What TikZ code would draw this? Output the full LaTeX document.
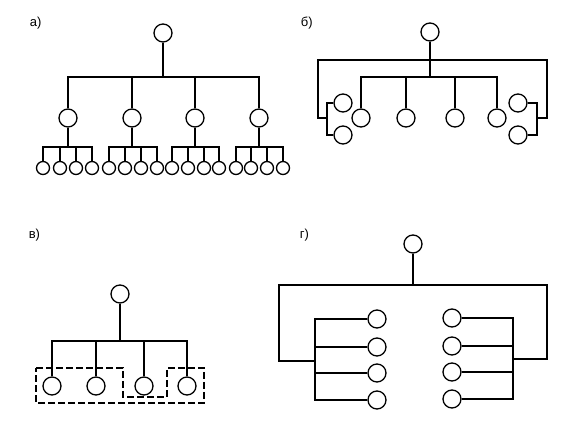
\documentclass[tikz,border=0pt]{standalone}
\usepackage{fontspec}
\setmainfont{Liberation Sans}
\begin{document}
\begin{tikzpicture}[x=1pt,y=-1pt,
  line width=1.6pt,
  bigc/.style={circle,draw,line width=1.3pt,minimum size=18pt,inner sep=0pt},
  leaf/.style={circle,draw,line width=1.3pt,minimum size=13pt,inner sep=0pt},
  lbl/.style={anchor=base west,inner sep=0pt,font=\fontsize{13}{15}\selectfont},
  dbox/.style={line width=1.3pt,dash pattern=on 7pt off 3pt}]
\useasboundingbox (0,0) rectangle (587,430);

% labels
\node[lbl] (la) at (29,27) {а)};
\node[lbl] (lb) at (300,27) {б)};
\node[lbl] (lv) at (28,239) {в)};
\node[lbl] (lg) at (299,239) {г)};

% ---------- panel a ----------
\node[bigc] (a0) at (163,33) {};
\coordinate (ab) at (163,77);
\draw (a0) -- (ab);
\foreach \p/\xs [count=\i] in {68/{43,60,76,92},132/{109,125,141,157},195/{172,188,204,219},259/{236,251,267,283}} {
  \node[bigc] (a\i) at (\p,118) {};
  \draw (a\i.north) |- (ab);
  \coordinate (ac\i) at (\p,147);
  \draw (a\i) -- (ac\i);
  \foreach \x [count=\j] in \xs {
    \node[leaf] (a\i\j) at (\x,168) {};
    \draw (a\i\j.north) |- (ac\i);
  }
}

% ---------- panel b ----------
\node[bigc] (b0) at (430,32) {};
\coordinate (bo) at (430,60);
\coordinate (bi) at (430,77);
\draw (b0) -- (bi);
\foreach \x [count=\i] in {361,406,455,497} {
  \node[bigc] (b\i) at (\x,118) {};
  \draw (b\i.north) |- (bi);
}
\node[bigc] (bl1) at (343,103) {};
\node[bigc] (bl2) at (343,135) {};
\node[bigc] (br1) at (518,103) {};
\node[bigc] (br2) at (518,135) {};
\coordinate (blk) at (327,118);
\coordinate (blo) at (318,118);
\coordinate (brk) at (537,118);
\coordinate (bro) at (547,118);
\draw (bl1.west) -| (blk);
\draw (bl2.west) -| (blk);
\draw (blk) -- (blo) |- (bo);
\draw (br1.east) -| (brk);
\draw (br2.east) -| (brk);
\draw (brk) -- (bro) |- (bo);

% ---------- panel v ----------
\node[bigc] (v0) at (120,294) {};
\coordinate (vb) at (120,341);
\draw (v0) -- (vb);
\foreach \x [count=\i] in {52,96,144,187} {
  \node[bigc] (v\i) at (\x,386) {};
  \draw (v\i.north) |- (vb);
}
\draw[dbox] (36,368) -- (123,368) -- (123,397) -- (167,397) -- (167,368)
  -- (204,368) -- (204,403) -- (36,403) -- cycle;

% ---------- panel g ----------
\node[bigc] (g0) at (413,244) {};
\coordinate (gb) at (413,285);
\draw (g0) -- (gb);
\coordinate (gLo) at (279,361);
\coordinate (glk) at (315,361);
\coordinate (gRo) at (547,359);
\coordinate (grk) at (513,359);
\draw (gb) -| (gLo) -- (glk);
\draw (gb) -| (gRo) -- (grk);
\foreach \y [count=\i] in {319,347,373,400} {
  \node[bigc] (gl\i) at (377,\y) {};
  \draw (gl\i.west) -| (glk);
}
\foreach \y [count=\i] in {318,346,372,399} {
  \node[bigc] (gr\i) at (452,\y) {};
  \draw (gr\i.east) -| (grk);
}
\end{tikzpicture}
\end{document}
